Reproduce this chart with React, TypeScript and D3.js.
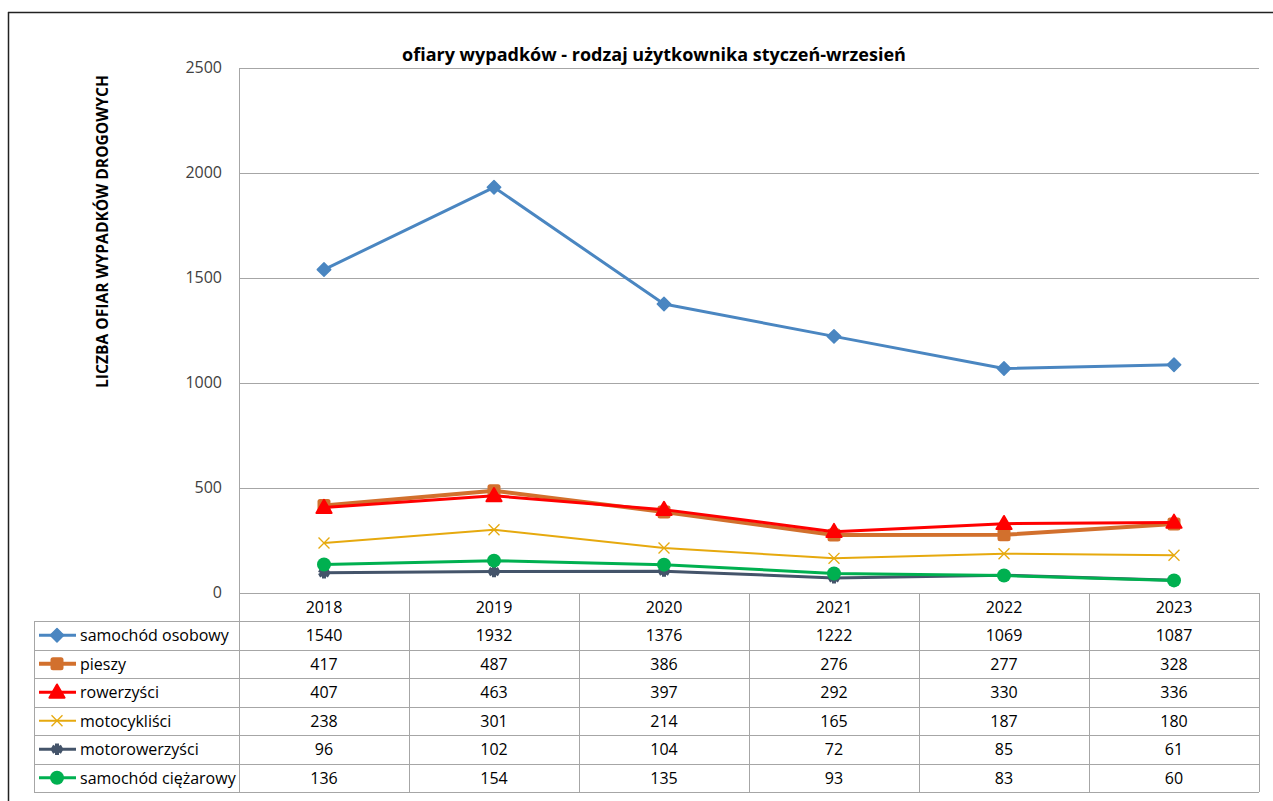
import React from 'react';
import * as d3 from 'd3';

const years = ['2018', '2019', '2020', '2021', '2022', '2023'];
const seriesNames = ['samochód osobowy', 'pieszy', 'rowerzyści', 'motocykliści', 'motorowerzyści', 'samochód ciężarowy'];
const osobowy = [1540, 1932, 1376, 1222, 1069, 1087];
const pieszy = [417, 487, 386, 276, 277, 328];
const rowerzysci = [407, 463, 397, 292, 330, 336];
const motocyklisci = [238, 301, 214, 165, 187, 180];
const motorowerzysci = [96, 102, 104, 72, 85, 61];
const ciezarowy = [136, 154, 135, 93, 83, 60];
const yTicks = [0, 500, 1000, 1500, 2000, 2500];

const title = 'ofiary wypadków - rodzaj użytkownika styczeń-wrzesień';
const yTitle = 'LICZBA OFIAR WYPADKÓW DROGOWYCH';

const FONT = "'Open Sans', 'Noto Sans', sans-serif";

const styles = [
  { color: '#4A86C1', width: 3, marker: 'diamond' },
  { color: '#D2702D', width: 4, marker: 'square' },
  { color: '#FF0000', width: 3, marker: 'triangle' },
  { color: '#E6A90E', width: 2, marker: 'x' },
  { color: '#44546A', width: 3, marker: 'star' },
  { color: '#00B050', width: 3, marker: 'circle' },
];

const values = [osobowy, pieszy, rowerzysci, motocyklisci, motorowerzysci, ciezarowy];

function Marker({ kind, color, x, y }: { kind: string; color: string; x: number; y: number }) {
  const t = `translate(${x},${y})`;
  if (kind === 'diamond') {
    return <path transform={`${t} rotate(45)`} d={d3.symbol(d3.symbolSquare, 90)()!} fill={color} stroke={color} strokeWidth={1.5} strokeLinejoin="round" />;
  }
  if (kind === 'square') {
    return <rect x={x - 6.5} y={y - 6.5} width={13} height={13} rx={2.5} fill={color} />;
  }
  if (kind === 'triangle') {
    return <path transform={`translate(${x},${y + 1})`} d={d3.symbol(d3.symbolTriangle, 100)()!} fill={color} stroke={color} strokeWidth={2} strokeLinejoin="round" />;
  }
  if (kind === 'x') {
    return <path transform={t} d={d3.symbol(d3.symbolTimes, 80)()!} fill="none" stroke={color} strokeWidth={1.3} />;
  }
  if (kind === 'star') {
    return <path transform={t} d={d3.symbol(d3.symbolAsterisk, 90)()!} fill="none" stroke={color} strokeWidth={4} />;
  }
  return <circle cx={x} cy={y} r={7} fill={color} />;
}

export default function App() {
  const plotLeft = 239;
  const plotRight = 1259;
  const plotTop = 68;
  const plotBottom = 593;
  const tableLeft = 34;
  const rowH = 28.5;
  const headerBottom = 621;
  const tableBottom = headerBottom + rowH * seriesNames.length;

  const x = d3.scaleBand<string>().domain(years).range([plotLeft, plotRight]);
  const y = d3.scaleLinear().domain([0, 2500]).range([plotBottom, plotTop]);
  const cx = (yr: string) => (x(yr) ?? 0) + x.bandwidth() / 2;

  const line = d3
    .line<number>()
    .x((_, i) => cx(years[i]))
    .y((d) => y(d));

  const grid = '#A6A6A6';

  return (
    <svg width={1273} height={801} style={{ position: 'absolute', left: 0, top: 0, background: '#fff' }} fontFamily={FONT}>
      <rect width={1273} height={801} fill="#fff" />
      {/* outer frame */}
      <line x1={8} x2={1273} y1={12.5} y2={12.5} stroke="#222" strokeWidth={1.5} />
      <line x1={8.5} x2={8.5} y1={12} y2={801} stroke="#222" strokeWidth={1.5} />

      <text x={654} y={61} textAnchor="middle" fontSize={18} fontWeight="bold" fill="#000">
        {title}
      </text>
      <text
        transform={`translate(108,${(75 + 388) / 2}) rotate(-90)`}
        textAnchor="middle"
        fontSize={15.6}
        fontWeight="bold"
        fill="#000"
      >
        {yTitle}
      </text>

      {/* gridlines + y ticks */}
      {yTicks.map((t) => (
        <g key={t}>
          <line x1={plotLeft} x2={plotRight} y1={Math.round(y(t)) + 0.5} y2={Math.round(y(t)) + 0.5} stroke={grid} strokeWidth={1} />
          <text x={222} y={y(t) + 5} textAnchor="end" fontSize={16} fill="#404040">
            {t}
          </text>
        </g>
      ))}
      <line x1={plotLeft + 0.5} x2={plotLeft + 0.5} y1={plotTop} y2={tableBottom} stroke={grid} />

      {/* data table */}
      {d3.range(seriesNames.length + 1).map((i) => {
        const yy = Math.round(headerBottom + rowH * i) + 0.5;
        return <line key={'h' + i} x1={tableLeft} x2={plotRight} y1={yy} y2={yy} stroke={grid} />;
      })}
      <line x1={tableLeft + 0.5} x2={tableLeft + 0.5} y1={headerBottom} y2={tableBottom} stroke={grid} />
      {years.map((yr) => (
        <line key={'v' + yr} x1={Math.round((x(yr) ?? 0) + x.bandwidth()) + 0.5} x2={Math.round((x(yr) ?? 0) + x.bandwidth()) + 0.5} y1={plotBottom} y2={tableBottom} stroke={grid} />
      ))}
      {years.map((yr) => (
        <text key={'c' + yr} x={cx(yr)} y={plotBottom + 20} textAnchor="middle" fontSize={16} fill="#000">
          {yr}
        </text>
      ))}
      {seriesNames.map((name, si) => {
        const rowY = headerBottom + rowH * si + rowH / 2;
        const s = styles[si];
        return (
          <g key={name}>
            <line x1={39} x2={76} y1={rowY} y2={rowY} stroke={s.color} strokeWidth={s.width} />
            <Marker kind={s.marker} color={s.color} x={57} y={rowY} />
            <text x={80} y={rowY + 6} fontSize={16} fill="#000">
              {name}
            </text>
            {years.map((yr, i) => (
              <text key={yr} x={cx(yr)} y={rowY + 6} textAnchor="middle" fontSize={16} fill="#000">
                {values[si][i]}
              </text>
            ))}
          </g>
        );
      })}

      {/* series lines with markers */}
      {values.map((vals, si) => (
        <g key={'s' + si}>
          <path d={line(vals)!} fill="none" stroke={styles[si].color} strokeWidth={styles[si].width} strokeLinejoin="round" />
          {vals.map((v, i) => (
            <Marker key={i} kind={styles[si].marker} color={styles[si].color} x={cx(years[i])} y={y(v)} />
          ))}
        </g>
      ))}
    </svg>
  );
}
